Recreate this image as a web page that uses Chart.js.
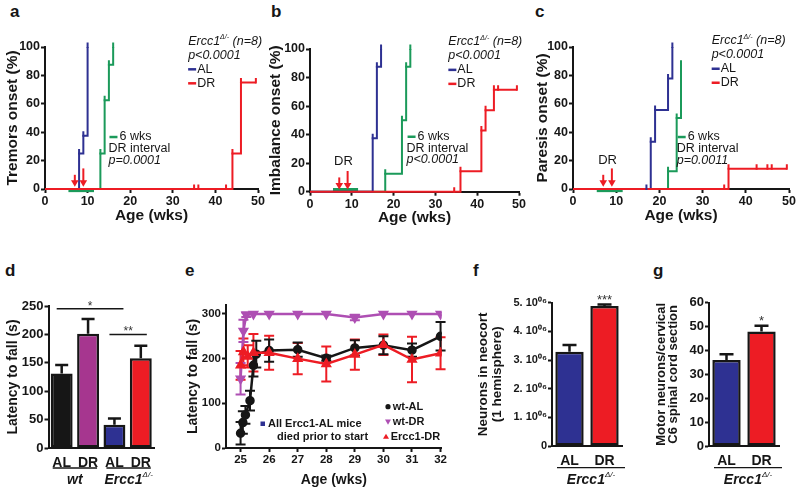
<!DOCTYPE html>
<html>
<head>
<meta charset="utf-8">
<title>Ercc1 onset and motor performance</title>
<script src="https://cdn.jsdelivr.net/npm/chart.js@4.4.1/dist/chart.umd.min.js"></script>
<style>
  body { margin: 0; background: #fff; }
  #page { position: relative; width: 800px; height: 495px; overflow: hidden; font-family: "Liberation Sans", Arial, sans-serif; }
  #page canvas { position: absolute; }
  .panel { position: absolute; font-weight: bold; font-size: 17px; line-height: 1; color: #161616; }
</style>
</head>
<body>
<div id="page">
  <div class="panel" style="left:10px;top:3px">a</div>
  <div class="panel" style="left:271px;top:3px">b</div>
  <div class="panel" style="left:535px;top:3px">c</div>
  <div class="panel" style="left:5px;top:262px">d</div>
  <div class="panel" style="left:185px;top:262px">e</div>
  <div class="panel" style="left:473px;top:262px">f</div>
  <div class="panel" style="left:653px;top:262px">g</div>
  <canvas id="chartA" width="265" height="228" style="left:0;top:0"></canvas>
  <canvas id="chartB" width="261" height="228" style="left:265px;top:0"></canvas>
  <canvas id="chartC" width="271" height="228" style="left:526px;top:0"></canvas>
  <canvas id="chartD" width="160" height="265" style="left:0;top:230px"></canvas>
  <canvas id="chartE" width="268" height="265" style="left:182px;top:230px"></canvas>
  <canvas id="chartF" width="165" height="265" style="left:470px;top:230px"></canvas>
  <canvas id="chartG" width="150" height="265" style="left:640px;top:230px"></canvas>
</div>
<script>
// ---- a-c: onset curves (week of each step / censor mark, % with onset)
const tremorWeeksAL = [8, 9, 10];
const tremorPctAL = [25, 37.5, 100];
const tremorWeeksDRi = [13, 14, 15, 16];
const tremorPctDRi = [25, 62.5, 87.5, 100];
const tremorWeeksDR = [35, 36, 42.5, 44, 46, 49.5];
const tremorPctDR = [0, 0, 0, 25, 75, 75];

const imbalanceWeeksAL = [15, 16, 17];
const imbalancePctAL = [37.5, 87.5, 100];
const imbalanceWeeksDRi = [18, 22, 23, 24];
const imbalancePctDRi = [12.5, 50, 87.5, 100];
const imbalanceWeeksDR = [34.5, 36, 41, 42, 44, 45, 49.5];
const imbalancePctDR = [0, 14.3, 42.9, 57.1, 71.4, 71.4, 71.4];

const paresisWeeksAL = [17, 18, 19, 22, 23];
const paresisPctAL = [0, 33.3, 55.6, 77.8, 100];
const paresisWeeksDRi = [22, 24, 25];
const paresisPctDRi = [12.5, 50, 87.5];
const paresisWeeksDR = [35, 36, 42.5, 45, 46, 49.5];
const paresisPctDR = [0, 14.3, 14.3, 14.3, 14.3, 14.3];

const drArrowWeeks = [7, 9];
const drIntervalWeeks = [5.5, 11.5];
const onsetTicks = [0, 20, 40, 60, 80, 100];
const ageTicks = [0, 10, 20, 30, 40, 50];

// ---- d: rotarod latency
const rotarodGroups = ['AL', 'DR', 'AL', 'DR'];
const rotarodMean = [131, 201, 41, 158];
const rotarodSem = [15, 26, 11, 22];
const rotarodTicks = [0, 50, 100, 150, 200, 250];

// ---- e: latency to fall over time
const eAgeTicks = [25, 26, 27, 28, 29, 30, 31, 32];
const eLatencyTicks = [0, 100, 200, 300];
const wtAlWeeks = [25, 25.08, 25.17, 25.33, 25.45, 25.55, 26, 27, 28, 29, 30, 31, 32];
const wtAlLatency = [33, 57, 74, 106, 185, 210, 218, 220, 201, 224, 230, 219, 250];
const wtAlSem = [25, 25, 20, 22, 25, 30, 25, 16, 6, 17, 20, 15, 32];
const wtDrWeeks = [25, 25.1, 25.2, 25.45, 26, 27, 28, 29, 30, 31, 32];
const wtDrLatency = [155, 262, 298, 300, 300, 300, 300, 292, 300, 300, 300];
const wtDrSem = [35, 25, 5, 0, 0, 0, 0, 6, 0, 0, 0];
const ercDrWeeks = [25, 25.1, 25.25, 25.45, 26, 27, 28, 29, 30, 31, 32];
const ercDrLatency = [185, 215, 205, 213, 213, 200, 188, 209, 231, 198, 212];
const ercDrSem = [32, 30, 25, 42, 38, 35, 39, 34, 23, 51, 36];

// ---- f, g: neuron counts
const dietGroups = ['AL', 'DR'];
const neocortexNeurons = [3.29e6, 4.885e6];
const neocortexSem = [0.23e6, 0.05e6];
const neuronTicks = [0, 1e6, 2e6, 3e6, 4e6, 5e6];
const motorNeurons = [36, 47.9];
const motorSem = [2.4, 2.5];
const motorTicks = [0, 10, 20, 30, 40, 50, 60];

const FONT = '"Liberation Sans", Arial, Helvetica, sans-serif';
const INK = '#161616';
const BLUE = '#2e3192';
const RED = '#ed1c24';
const GREEN = '#1b9a5a';
const PURPLE = '#a6368f';
const LILAC = '#ae4fb3';

Chart.defaults.font.family = FONT;
Chart.defaults.color = INK;
Chart.defaults.animation = false;
Chart.defaults.plugins.legend.display = false;
Chart.defaults.plugins.tooltip.enabled = false;

// small text helper, parts = [text, font, dy, color]
function rich(ctx, x, y, parts, align) {
    ctx.save();
    ctx.textBaseline = 'middle';
    ctx.textAlign = 'left';
    let w = 0;
    parts.forEach(p => { ctx.font = p[1]; w += ctx.measureText(p[0]).width; });
    let cx = align === 'center' ? x - w / 2 : x;
    parts.forEach(p => {
        ctx.font = p[1];
        ctx.fillStyle = p[3] || INK;
        ctx.fillText(p[0], cx, y + (p[2] || 0));
        cx += ctx.measureText(p[0]).width;
    });
    ctx.restore();
}

function dash(ctx, x1, x2, y, color) {
    ctx.save();
    ctx.strokeStyle = color;
    ctx.lineWidth = 2.5;
    ctx.beginPath();
    ctx.moveTo(x1, y);
    ctx.lineTo(x2, y);
    ctx.stroke();
    ctx.restore();
}

// vertical tick at each step / censor point of the onset curves
const stepTickPlugin = {
    id: 'stepTicks',
    afterDatasetsDraw(chart) {
        const ctx = chart.ctx;
        chart.data.datasets.forEach((ds, i) => {
            if (!ds.markTicks) return;
            const pts = chart.getDatasetMeta(i).data;
            ctx.save();
            ctx.strokeStyle = ds.borderColor;
            ctx.lineWidth = 2;
            ctx.beginPath();
            pts.slice(1).forEach(p => { ctx.moveTo(p.x, p.y + 1); ctx.lineTo(p.x, p.y - 4.5); });
            ctx.stroke();
            ctx.restore();
        });
    }
};

// error bars from dataset.sem
function drawErrors(chart, under) {
    const ctx = chart.ctx;
    chart.data.datasets.forEach((ds, i) => {
        if (!ds.sem || !!ds.errorsUnder !== under) return;
        const meta = chart.getDatasetMeta(i);
        const yScale = chart.scales[meta.yAxisID];
        ctx.save();
        ctx.strokeStyle = ds.errorColor || ds.borderColor;
        ctx.lineWidth = ds.errorWidth || 2;
        ctx.beginPath();
        meta.data.forEach((el, j) => {
            const e = ds.sem[j];
            if (!e) return;
            const raw = ds.data[j];
            const v = typeof raw === 'object' ? raw.y : raw;
            const top = yScale.getPixelForValue(v + e);
            const bot = ds.upperOnly ? el.y : yScale.getPixelForValue(v - e);
            const c = ds.capWidth / 2;
            ctx.moveTo(el.x, top); ctx.lineTo(el.x, bot);
            ctx.moveTo(el.x - c, top); ctx.lineTo(el.x + c, top);
            if (!ds.upperOnly) { ctx.moveTo(el.x - c, bot); ctx.lineTo(el.x + c, bot); }
        });
        ctx.stroke();
        ctx.restore();
    });
}
const errorBarPlugin = {
    id: 'errorBars',
    beforeDatasetsDraw(chart) { drawErrors(chart, true); },
    afterDatasetsDraw(chart) { drawErrors(chart, false); }
};
Chart.register(stepTickPlugin, errorBarPlugin);

function axisTitle(text, size, pad, lineHeight) {
    return {
        display: true, text, color: INK,
        font: { size, weight: 'bold', lineHeight: lineHeight || 1.2 },
        padding: { top: pad, bottom: pad }
    };
}

function linAxis(min, max, ticks, fontSize, fit, title, callback) {
    return {
        type: 'linear', min, max,
        afterBuildTicks: s => { s.ticks = ticks.map(v => ({ value: v })); },
        afterFit: fit,
        border: { color: INK, width: 2 },
        grid: { drawOnChartArea: false, tickColor: INK, tickLength: 4, tickWidth: 2 },
        ticks: { color: INK, font: { size: fontSize, weight: 'bold' }, padding: 1, callback: callback },
        title: title || { display: false }
    };
}

const fitY = w => s => { s.width = w; s.paddingTop = 0; s.paddingBottom = 0; };
const fitX = h => s => { s.height = h; s.paddingLeft = 0; s.paddingRight = 0; };

function arrow(ctx, x, yTop, yTip) {
    ctx.save();
    ctx.strokeStyle = RED;
    ctx.fillStyle = RED;
    ctx.lineWidth = 2;
    ctx.beginPath();
    ctx.moveTo(x, yTop);
    ctx.lineTo(x, yTip - 5);
    ctx.stroke();
    ctx.beginPath();
    ctx.moveTo(x - 3.8, yTip - 6.5);
    ctx.lineTo(x + 3.8, yTip - 6.5);
    ctx.lineTo(x, yTip);
    ctx.closePath();
    ctx.fill();
    ctx.restore();
}

function onsetChart(id, o) {
    const datasets = o.curves.map(([weeks, pct, color]) => ({
        data: [{ x: 0, y: 0 }].concat(weeks.map((w, i) => ({ x: w, y: pct[i] }))),
        borderColor: color, borderWidth: 2, stepped: 'before',
        pointRadius: 0, clip: false, fill: false, markTicks: true
    }));
    datasets.push({
        data: drIntervalWeeks.map(w => ({ x: w, y: o.intervalY })),
        borderColor: GREEN, borderWidth: 4, pointRadius: 0, clip: false
    });
    const it = `italic 12.5px ${FONT}`;
    const reg = `12.5px ${FONT}`;
    return new Chart(document.getElementById(id), {
        type: 'line',
        data: { datasets },
        options: {
            responsive: false,
            layout: { padding: { top: o.padTop, right: o.padRight } },
            scales: {
                x: linAxis(0, 50, ageTicks, 12.5, fitX(o.xHeight), axisTitle('Age (wks)', 15.5, o.xTitlePad)),
                y: linAxis(0, 100, onsetTicks, 12.5, fitY(o.yWidth), axisTitle(o.yTitle, 15.5, o.yTitlePad))
            }
        },
        plugins: [{
            id: 'onsetNotes',
            afterDatasetsDraw(chart) {
                const { ctx, scales: { x, y } } = chart;
                drArrowWeeks.forEach((w, i) => {
                    arrow(ctx, x.getPixelForValue(w), y.getPixelForValue(o.arrowTop[i]), y.getPixelForValue(1.5));
                });
                if (o.drLabel) {
                    rich(ctx, x.getPixelForValue(8), y.getPixelForValue(o.drLabel), [['DR', `13px ${FONT}`]], 'center');
                }
                const hx = x.getPixelForValue(o.keyAt[0]);
                const hy = y.getPixelForValue(o.keyAt[1]);
                rich(ctx, hx, hy, [['Ercc1', it], ['\u0394/-', `italic 7px ${FONT}`, -4], [' (n=8)', it]]);
                rich(ctx, hx, hy + 14, [[o.pAll, it]]);
                dash(ctx, hx, hx + 8, hy + 28, BLUE);
                rich(ctx, hx + 9, hy + 28, [['AL', reg]]);
                dash(ctx, hx, hx + 8, hy + 42, RED);
                rich(ctx, hx + 9, hy + 42, [['DR', reg]]);
                const bx = x.getPixelForValue(o.blockAt[0]);
                const by = y.getPixelForValue(o.blockAt[1]);
                dash(ctx, bx + 1, bx + 9, by, GREEN);
                rich(ctx, bx + 11, by, [['6 wks', reg]]);
                rich(ctx, bx, by + 11.5, [['DR interval', reg]]);
                rich(ctx, bx, by + 23, [[o.pInterval, it]]);
            }
        }]
    });
}

onsetChart('chartA', {
    yWidth: 45, xHeight: 39, padTop: 47, padRight: 7, yTitle: 'Tremors onset (%)', yTitlePad: 3.5, xTitlePad: 2.7,
    curves: [[tremorWeeksDR, tremorPctDR, RED], [tremorWeeksAL, tremorPctAL, BLUE], [tremorWeeksDRi, tremorPctDRi, GREEN]],
    intervalY: -0.8, arrowTop: [10, 14.5], drLabel: null,
    keyAt: [33.6, 104], pAll: 'p<0.0001', blockAt: [14.9, 36.6], pInterval: 'p=0.0001'
});
onsetChart('chartB', {
    yWidth: 45, xHeight: 36.3, padTop: 49, padRight: 7, yTitle: 'Imbalance onset (%)', yTitlePad: 1, xTitlePad: 1.2,
    curves: [[imbalanceWeeksDR, imbalancePctDR, RED], [imbalanceWeeksAL, imbalancePctAL, BLUE], [imbalanceWeeksDRi, imbalancePctDRi, GREEN]],
    intervalY: 1.2, arrowTop: [10, 14.5], drLabel: 21,
    keyAt: [33.1, 105], pAll: 'p<0.0001', blockAt: [23.1, 38.5], pInterval: 'p<0.0001'
});
onsetChart('chartC', {
    yWidth: 47, xHeight: 39, padTop: 47, padRight: 8, yTitle: 'Paresis onset (%)', yTitlePad: 7.5, xTitlePad: 2.7,
    curves: [[paresisWeeksDR, paresisPctDR, RED], [paresisWeeksAL, paresisPctAL, BLUE], [paresisWeeksDRi, paresisPctDRi, GREEN]],
    intervalY: -0.8, arrowTop: [10, 14.5], drLabel: 20.3,
    keyAt: [32.1, 104.4], pAll: 'p<0.0001', blockAt: [24, 36.6], pInterval: 'p=0.0011'
});

function barChart(id, o) {
    return new Chart(document.getElementById(id), {
        type: 'bar',
        data: {
            labels: o.labels,
            datasets: [{
                data: o.values, sem: o.sem, upperOnly: true, capWidth: o.capW,
                errorColor: INK, errorWidth: 2.5,
                backgroundColor: o.colors, borderColor: INK, borderWidth: 2.5, borderSkipped: false,
                barPercentage: o.barPct, categoryPercentage: 1
            }]
        },
        options: {
            responsive: false,
            layout: { padding: { top: o.padTop, right: o.padRight } },
            scales: {
                x: {
                    type: 'category',
                    afterFit: fitX(o.xHeight),
                    border: { color: INK, width: 2 },
                    grid: { display: false, drawTicks: false },
                    ticks: { color: INK, font: { size: 14, weight: 'bold' }, padding: 6.5 }
                },
                y: linAxis(0, o.max, o.ticks, o.tickFont, fitY(o.yWidth),
                    axisTitle(o.yTitle, o.titleFont, o.yTitlePad, o.titleLh), o.tickLabel)
            }
        },
        plugins: [{ id: 'barNotes', afterDraw: o.decor }]
    });
}

function groupLabel(ctx, x1, x2, yLine, name, sup) {
    ctx.save();
    ctx.strokeStyle = INK;
    ctx.lineWidth = 1.3;
    ctx.beginPath();
    ctx.moveTo(x1, yLine);
    ctx.lineTo(x2, yLine);
    ctx.stroke();
    ctx.restore();
    const parts = [[name, `italic bold 14px ${FONT}`]];
    if (sup) parts.push([sup, `italic 8px ${FONT}`, -5]);
    rich(ctx, (x1 + x2) / 2, yLine + 12, parts, 'center');
}

function stars(ctx, x, y, text, size) {
    ctx.save();
    ctx.font = `${size}px ${FONT}`;
    ctx.fillStyle = '#333';
    ctx.textAlign = 'center';
    ctx.textBaseline = 'alphabetic';
    ctx.fillText(text, x, y);
    ctx.restore();
}

barChart('chartD', {
    labels: rotarodGroups, values: rotarodMean, sem: rotarodSem, colors: [INK, PURPLE, BLUE, RED],
    max: 250, ticks: rotarodTicks, tickFont: 13, yWidth: 48.5, xHeight: 47, padTop: 76, padRight: 6,
    yTitle: 'Latency to fall (s)', titleFont: 14, yTitlePad: 4.4, barPct: 0.83, capW: 13,
    decor(chart) {
        const { ctx, scales: { x, y } } = chart;
        const c = [0, 1, 2, 3].map(i => x.getPixelForValue(i));
        ctx.save();
        ctx.strokeStyle = INK;
        ctx.lineWidth = 1.5;
        ctx.beginPath();
        const y1 = y.getPixelForValue(245), y2 = y.getPixelForValue(200);
        ctx.moveTo(c[0] - 5, y1); ctx.lineTo(c[2] + 9, y1);
        ctx.moveTo(c[2] - 5, y2); ctx.lineTo(c[3] + 6, y2);
        ctx.stroke();
        ctx.restore();
        stars(ctx, (c[0] + c[2] + 4) / 2, y1 + 1, '*', 12);
        stars(ctx, (c[2] + c[3] + 1) / 2, y2 + 1, '**', 12);
        const yl = x.top + 20;
        groupLabel(ctx, c[0] - 9, c[1] + 9, yl, 'wt');
        groupLabel(ctx, c[2] - 8, c[3] + 10, yl, 'Ercc1', '\u0394/-');
    }
});

barChart('chartF', {
    labels: dietGroups, values: neocortexNeurons, sem: neocortexSem, colors: [BLUE, RED],
    max: 5e6, ticks: neuronTicks, tickFont: 11, yWidth: 82, xHeight: 49, padTop: 72.7, padRight: 13,
    yTitle: ['Neurons in neocort', '(1 hemisphere)'], titleFont: 13.5, titleLh: '14.5px', yTitlePad: 5.7,
    barPct: 0.81, capW: 14,
    tickLabel: v => v === 0 ? '0' : (v / 1e6) + '. 10\u2070\u2076',
    decor(chart) {
        const { ctx, chartArea: a, scales: { x, y } } = chart;
        stars(ctx, x.getPixelForValue(1), y.getPixelForValue(neocortexNeurons[1] + neocortexSem[1]) - 1, '***', 13);
        groupLabel(ctx, a.left + 5, a.right + 3, x.top + 21.7, 'Ercc1', '\u0394/-');
    }
});

barChart('chartG', {
    labels: dietGroups, values: motorNeurons, sem: motorSem, colors: [BLUE, RED],
    max: 60, ticks: motorTicks, tickFont: 13, yWidth: 69, xHeight: 49, padTop: 72.7, padRight: 11,
    yTitle: ['Motor neurons/cervical', 'C6 spinal cord section'], titleFont: 13, titleLh: '12px', yTitlePad: 15.7,
    barPct: 0.81, capW: 14,
    decor(chart) {
        const { ctx, chartArea: a, scales: { x, y } } = chart;
        stars(ctx, x.getPixelForValue(1), y.getPixelForValue(motorNeurons[1] + motorSem[1]) - 1, '*', 13);
        groupLabel(ctx, a.left + 5, a.right + 3, x.top + 21.7, 'Ercc1', '\u0394/-');
    }
});

// ---- e
const xy = (xs, ys) => xs.map((v, i) => ({ x: v, y: ys[i] }));
function marker(ctx, style, x, y, r, color) {
    ctx.save();
    ctx.fillStyle = color;
    ctx.beginPath();
    if (style === 'circle') {
        ctx.arc(x, y, r, 0, Math.PI * 2);
    } else {
        const s = style === 'down' ? -1 : 1;
        ctx.moveTo(x, y - s * r);
        ctx.lineTo(x + r, y + s * r * 0.7);
        ctx.lineTo(x - r, y + s * r * 0.7);
        ctx.closePath();
    }
    ctx.fill();
    ctx.restore();
}

new Chart(document.getElementById('chartE'), {
    type: 'line',
    data: {
        datasets: [
            { data: xy(ercDrWeeks, ercDrLatency), sem: ercDrSem, errorsUnder: true, capWidth: 10, errorWidth: 2,
              borderColor: RED, backgroundColor: RED, borderWidth: 2.5, pointStyle: 'triangle', pointRadius: 4 },
            { data: xy(wtAlWeeks, wtAlLatency), sem: wtAlSem, errorsUnder: true, capWidth: 10, errorWidth: 2,
              borderColor: INK, backgroundColor: INK, borderWidth: 2.5, pointStyle: 'circle', pointRadius: 3.5 },
            { data: xy(wtDrWeeks, wtDrLatency), sem: wtDrSem, errorsUnder: true, capWidth: 10, errorWidth: 2,
              borderColor: LILAC, backgroundColor: LILAC, borderWidth: 2.5, pointStyle: 'triangle', rotation: 180, pointRadius: 4 }
        ]
    },
    options: {
        responsive: false,
        layout: { padding: { top: 75, right: 8.3 } },
        scales: {
            x: linAxis(24.49, 32.04, eAgeTicks, 11.5, fitX(47), axisTitle('Age (wks)', 14, 6.6)),
            y: linAxis(0, 320, eLatencyTicks, 11.5, fitY(44), axisTitle('Latency to fall (s)', 14, 2.6))
        }
    },
    plugins: [{
        id: 'eLegend',
        afterDraw(chart) {
            const { ctx, chartArea: a } = chart;
            const f = `bold 11px ${FONT}`;
            marker(ctx, 'circle', a.left + 162, a.top + 101.7, 2.6, INK);
            rich(ctx, a.left + 166.7, a.top + 101.7, [['wt-AL', f]]);
            marker(ctx, 'down', a.left + 162, a.top + 116.7, 3, LILAC);
            rich(ctx, a.left + 166.7, a.top + 116.7, [['wt-DR', f]]);
            marker(ctx, 'up', a.left + 160, a.top + 131.7, 3, RED);
            rich(ctx, a.left + 164.7, a.top + 131.7, [['Ercc1-DR', f]]);
            ctx.fillStyle = BLUE;
            ctx.fillRect(a.left + 34.5, a.top + 116.5, 4.5, 4.5);
            rich(ctx, a.left + 42, a.top + 119, [['All Ercc1-AL mice', f]]);
            rich(ctx, a.left + 51, a.top + 131.7, [['died prior to start', f]]);
        }
    }]
});
</script>
</body>
</html>
